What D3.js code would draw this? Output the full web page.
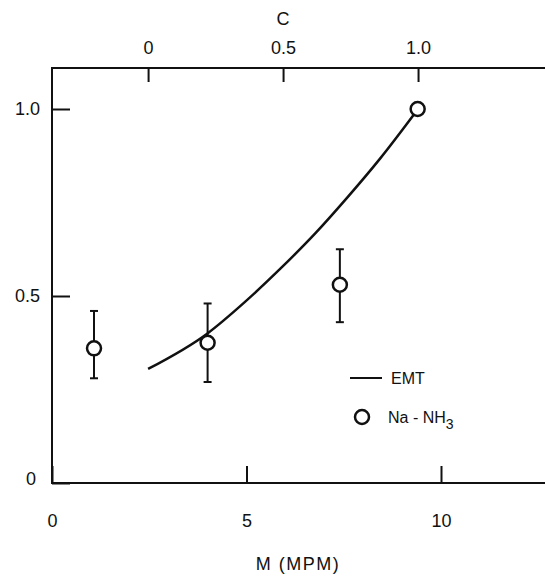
<html>
<head>
<script src="https://d3js.org/d3.v7.min.js"></script>
<style>
body { margin: 0; background: #fff; }
svg { display: block; font-family: 'Liberation Sans', Arial, sans-serif; }
</style>
</head>
<body>
<div id="chart"></div>
<script>
  // Na-NH3 measurements (M in MPM) with error bars
  var mValues = [1.08, 4.0, 7.4, 9.4];
  var fValues = [0.36, 0.375, 0.53, 1.0];
  var errLow = [0.28, 0.27, 0.43, null];
  var errHigh = [0.46, 0.48, 0.625, null];

  // EMT curve, read against the top C axis
  var emtC = [0, 0.22, 0.36, 0.49, 0.62, 0.74, 0.86, 1.0];
  var emtF = [0.305, 0.40, 0.485, 0.573, 0.668, 0.765, 0.868, 1.0];

  var xTicks = [0, 5, 10];
  var xTickLabels = ["0", "5", "10"];
  var yTicks = [0, 0.5, 1.0];
  var yTickLabels = ["0", "0.5", "1.0"];
  var cTicks = [0, 0.5, 1.0];
  var cTickLabels = ["0", "0.5", "1.0"];
  var cAtM = [2.47, 9.41];   // M positions of C = 0 and C = 1

  var width = 545, height = 578;
  var marginLeft = 52, marginTop = 68, axisBottom = 483;

  var svg = d3.select("#chart").append("svg")
    .attr("width", width)
    .attr("height", height);

  var x = d3.scaleLinear().domain([0, 10]).range([marginLeft, 441]);
  var y = d3.scaleLinear().domain([0, 1]).range([axisBottom, 109]);
  var xc = d3.scaleLinear().domain([0, 1]).range([x(cAtM[0]), x(cAtM[1])]);

  var fontSize = 18;

  // frame: left, top, bottom (no right side)
  svg.append("path")
    .attr("d", "M" + width + "," + marginTop + "H" + marginLeft + "V" + axisBottom + "H" + width)
    .attr("fill", "none")
    .attr("stroke", "#111")
    .attr("stroke-width", 2);

  var gx = svg.append("g")
    .attr("transform", "translate(0," + axisBottom + ")")
    .call(d3.axisBottom(x).tickValues(xTicks)
      .tickFormat(function(d, i) { return xTickLabels[i]; })
      .tickSizeInner(-17).tickSizeOuter(0).tickPadding(31));

  var gy = svg.append("g")
    .attr("transform", "translate(" + marginLeft + ",0)")
    .call(d3.axisLeft(y).tickValues(yTicks)
      .tickFormat(function(d, i) { return yTickLabels[i]; })
      .tickSizeInner(-18).tickSizeOuter(0).tickPadding(12));

  var gc = svg.append("g")
    .attr("transform", "translate(0," + marginTop + ")")
    .call(d3.axisTop(xc).tickValues(cTicks)
      .tickFormat(function(d, i) { return cTickLabels[i]; })
      .tickSizeInner(-14).tickSizeOuter(0).tickPadding(14));

  [gx, gy, gc].forEach(function(g) {
    g.select(".domain").remove();
    g.selectAll(".tick line").attr("stroke", "#111").attr("stroke-width", 2);
    g.selectAll(".tick text")
      .attr("fill", "#111")
      .style("font-size", fontSize + "px")
      .style("font-family", "'Liberation Sans', Arial, sans-serif");
  });

  // the y "0" sits a little above the bottom line
  gy.selectAll(".tick text").filter(function(d) { return d === 0; })
    .attr("dy", "0.1em").attr("dx", "-4");

  // axis titles
  svg.append("text")
    .attr("x", xc(0.5))
    .attr("y", 25)
    .attr("text-anchor", "middle")
    .attr("fill", "#111")
    .style("font-size", fontSize + "px")
    .text("C");

  svg.append("text")
    .attr("x", 298)
    .attr("y", 570)
    .attr("text-anchor", "middle")
    .attr("fill", "#111")
    .style("font-size", fontSize + "px")
    .style("letter-spacing", "1.5px")
    .text("M (MPM)");

  // EMT curve
  var line = d3.line()
    .x(function(d, i) { return xc(emtC[i]); })
    .y(function(d, i) { return y(emtF[i]); })
    .curve(d3.curveMonotoneX);

  svg.append("path")
    .datum(emtC)
    .attr("d", line)
    .attr("fill", "none")
    .attr("stroke", "#111")
    .attr("stroke-width", 2.5);

  // error bars
  var bars = svg.selectAll(".err")
    .data(mValues.map(function(m, i) { return i; }).filter(function(i) { return errLow[i] != null; }))
    .enter().append("g")
    .attr("class", "err")
    .attr("stroke", "#111")
    .attr("stroke-width", 2);

  bars.append("line")
    .attr("x1", function(i) { return x(mValues[i]); })
    .attr("x2", function(i) { return x(mValues[i]); })
    .attr("y1", function(i) { return y(errLow[i]); })
    .attr("y2", function(i) { return y(errHigh[i]); });

  bars.append("line")
    .attr("x1", function(i) { return x(mValues[i]) - 4; })
    .attr("x2", function(i) { return x(mValues[i]) + 4; })
    .attr("y1", function(i) { return y(errLow[i]); })
    .attr("y2", function(i) { return y(errLow[i]); });

  bars.append("line")
    .attr("x1", function(i) { return x(mValues[i]) - 4; })
    .attr("x2", function(i) { return x(mValues[i]) + 4; })
    .attr("y1", function(i) { return y(errHigh[i]); })
    .attr("y2", function(i) { return y(errHigh[i]); });

  // points
  svg.selectAll(".pt")
    .data(mValues)
    .enter().append("circle")
    .attr("class", "pt")
    .attr("cx", function(d) { return x(d); })
    .attr("cy", function(d, i) { return y(fValues[i]); })
    .attr("r", 7)
    .attr("fill", "#fff")
    .attr("stroke", "#111")
    .attr("stroke-width", 2.5);

  // legend
  var lg = svg.append("g");
  lg.append("line")
    .attr("x1", 350).attr("x2", 382)
    .attr("y1", 378).attr("y2", 378)
    .attr("stroke", "#111").attr("stroke-width", 2);
  lg.append("text")
    .attr("x", 391).attr("y", 384)
    .attr("fill", "#111")
    .style("font-size", "16px")
    .text("EMT");
  lg.append("circle")
    .attr("cx", 362).attr("cy", 417).attr("r", 7)
    .attr("fill", "#fff").attr("stroke", "#111").attr("stroke-width", 2.5);
  var na = lg.append("text")
    .attr("x", 388).attr("y", 423)
    .attr("fill", "#111")
    .style("font-size", "16px");
  na.append("tspan").text("Na - NH");
  na.append("tspan").attr("dy", 6).style("font-size", "14px").text("3");
</script>
</body>
</html>
